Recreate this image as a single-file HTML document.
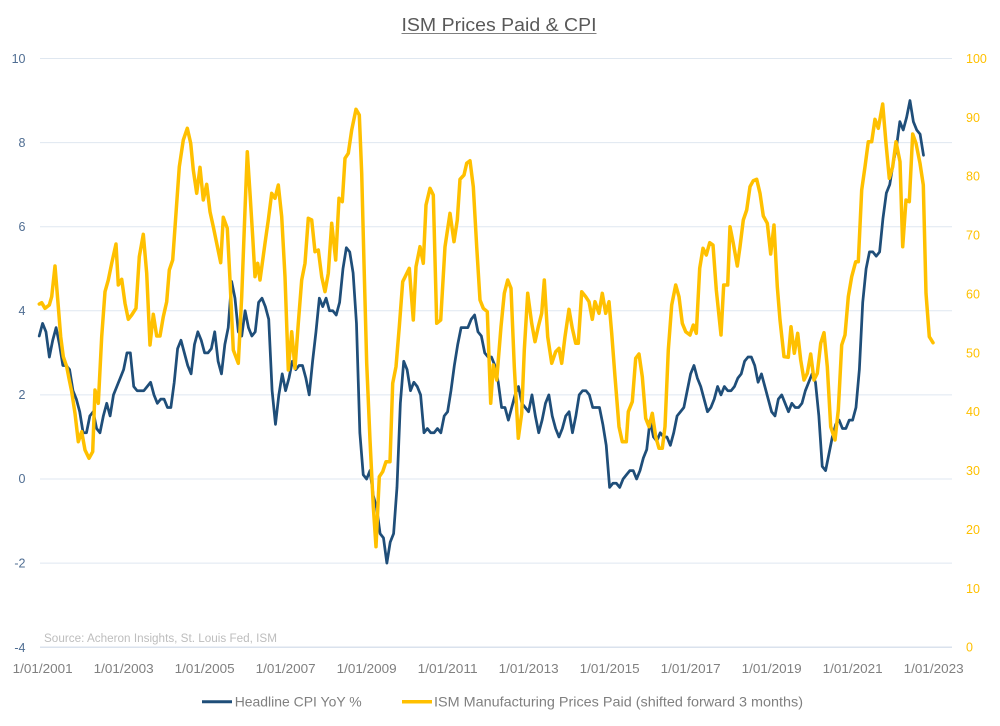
<!DOCTYPE html>
<html>
<head>
<meta charset="utf-8">
<style>
  html, body { margin:0; padding:0; background:#ffffff; }
  svg { display:block; }
  text { font-family: "Liberation Sans", Arial, sans-serif; }
</style>
</head>
<body>
<svg width="1000" height="726" viewBox="0 0 1000 726" xmlns="http://www.w3.org/2000/svg">
  <rect x="0" y="0" width="1000" height="726" fill="#ffffff"/>

  <!-- Title -->
  <text x="499" y="31" font-size="18" fill="#595959" text-anchor="middle" textLength="195" lengthAdjust="spacingAndGlyphs">ISM Prices Paid &amp; CPI</text>
  <line x1="401.5" y1="33.5" x2="596.5" y2="33.5" stroke="#7f7f7f" stroke-width="1"/>

  <!-- Gridlines -->
  <g stroke="#dfe7f0" stroke-width="1">
    <line x1="40" y1="58.5" x2="952" y2="58.5"/>
    <line x1="40" y1="142.6" x2="952" y2="142.6"/>
    <line x1="40" y1="226.7" x2="952" y2="226.7"/>
    <line x1="40" y1="310.8" x2="952" y2="310.8"/>
    <line x1="40" y1="394.9" x2="952" y2="394.9"/>
    <line x1="40" y1="479" x2="952" y2="479"/>
    <line x1="40" y1="563.1" x2="952" y2="563.1"/>
  </g>
  <line x1="40" y1="647.2" x2="952" y2="647.2" stroke="#cdd9e7" stroke-width="1.2"/>

  <!-- Left axis labels -->
  <g font-size="12.5" fill="#4f6d92" text-anchor="end">
    <text x="25.5" y="63">10</text>
    <text x="25.5" y="147">8</text>
    <text x="25.5" y="231">6</text>
    <text x="25.5" y="315">4</text>
    <text x="25.5" y="399">2</text>
    <text x="25.5" y="483">0</text>
    <text x="25.5" y="567.5">-2</text>
    <text x="25.5" y="652">-4</text>
  </g>

  <!-- Right axis labels -->
  <g font-size="12.5" fill="#FFC000">
    <text x="966" y="63">100</text>
    <text x="966" y="121.9">90</text>
    <text x="966" y="180.7">80</text>
    <text x="966" y="239.6">70</text>
    <text x="966" y="298.5">60</text>
    <text x="966" y="357.4">50</text>
    <text x="966" y="416.2">40</text>
    <text x="966" y="475.1">30</text>
    <text x="966" y="534">20</text>
    <text x="966" y="592.8">10</text>
    <text x="966" y="651.7">0</text>
  </g>

  <!-- X axis labels -->
  <g font-size="13" fill="#808080" text-anchor="middle">
    <text x="42.6" y="673" textLength="60" lengthAdjust="spacingAndGlyphs">1/01/2001</text>
    <text x="123.6" y="673" textLength="60" lengthAdjust="spacingAndGlyphs">1/01/2003</text>
    <text x="204.6" y="673" textLength="60" lengthAdjust="spacingAndGlyphs">1/01/2005</text>
    <text x="285.6" y="673" textLength="60" lengthAdjust="spacingAndGlyphs">1/01/2007</text>
    <text x="366.6" y="673" textLength="60" lengthAdjust="spacingAndGlyphs">1/01/2009</text>
    <text x="447.6" y="673" textLength="60" lengthAdjust="spacingAndGlyphs">1/01/2011</text>
    <text x="528.6" y="673" textLength="60" lengthAdjust="spacingAndGlyphs">1/01/2013</text>
    <text x="609.6" y="673" textLength="60" lengthAdjust="spacingAndGlyphs">1/01/2015</text>
    <text x="690.6" y="673" textLength="60" lengthAdjust="spacingAndGlyphs">1/01/2017</text>
    <text x="771.6" y="673" textLength="60" lengthAdjust="spacingAndGlyphs">1/01/2019</text>
    <text x="852.6" y="673" textLength="60" lengthAdjust="spacingAndGlyphs">1/01/2021</text>
    <text x="933.6" y="673" textLength="60" lengthAdjust="spacingAndGlyphs">1/01/2023</text>
  </g>

  <!-- Source -->
  <text x="44" y="642" font-size="11.5" fill="#bdbdbd" textLength="233" lengthAdjust="spacingAndGlyphs">Source: Acheron Insights, St. Louis Fed, ISM</text>

  <!-- CPI series (data coords: month index, value) -->
  <g transform="translate(42.6,479) scale(3.375,-42.05)">
    <polyline fill="none" stroke="#1f4e79" stroke-width="2.75" vector-effect="non-scaling-stroke" stroke-linejoin="round" stroke-linecap="round"
      points="-1,3.4 0,3.7 1,3.5 2,2.9 3,3.3 4,3.6 5,3.2 6,2.7 7,2.7 8,2.6 9,2.1 10,1.9 11,1.6 12,1.1 13,1.1 14,1.5 15,1.6 16,1.2 17,1.1 18,1.5 19,1.8 20,1.5 21,2.0 22,2.2 23,2.4 24,2.6 25,3.0 26,3.0 27,2.2 28,2.1 29,2.1 30,2.1 31,2.2 32,2.3 33,2.0 34,1.8 35,1.9 36,1.9 37,1.7 38,1.7 39,2.3 40,3.1 41,3.3 42,3.0 43,2.7 44,2.5 45,3.2 46,3.5 47,3.3 48,3.0 49,3.0 50,3.1 51,3.5 52,2.8 53,2.5 54,3.2 55,3.6 56,4.7 57,4.3 58,3.5 59,3.4 60,4.0 61,3.6 62,3.4 63,3.5 64,4.2 65,4.3 66,4.1 67,3.8 68,2.1 69,1.3 70,2.0 71,2.5 72,2.1 73,2.4 74,2.8 75,2.6 76,2.7 77,2.7 78,2.4 79,2.0 80,2.8 81,3.5 82,4.3 83,4.1 84,4.3 85,4.0 86,4.0 87,3.9 88,4.2 89,5.0 90,5.5 91,5.4 92,4.9 93,3.7 94,1.1 95,0.1 96,0.0 97,0.2 98,-0.4 99,-0.7 100,-1.3 101,-1.4 102,-2.0 103,-1.5 104,-1.3 105,-0.2 106,1.8 107,2.8 108,2.6 109,2.1 110,2.3 111,2.2 112,2.0 113,1.1 114,1.2 115,1.1 116,1.1 117,1.2 118,1.1 119,1.5 120,1.6 121,2.1 122,2.7 123,3.2 124,3.6 125,3.6 126,3.6 127,3.8 128,3.9 129,3.5 130,3.4 131,3.0 132,2.9 133,2.9 134,2.7 135,2.3 136,1.7 137,1.7 138,1.4 139,1.7 140,2.0 141,2.2 142,1.8 143,1.7 144,1.6 145,2.0 146,1.5 147,1.1 148,1.4 149,1.8 150,2.0 151,1.5 152,1.2 153,1.0 154,1.2 155,1.5 156,1.6 157,1.1 158,1.5 159,2.0 160,2.1 161,2.1 162,2.0 163,1.7 164,1.7 165,1.7 166,1.3 167,0.8 168,-0.2 169,-0.1 170,-0.1 171,-0.2 172,0.0 173,0.1 174,0.2 175,0.2 176,0.0 177,0.2 178,0.5 179,0.7 180,1.4 181,1.0 182,0.9 183,1.1 184,1.0 185,1.0 186,0.8 187,1.1 188,1.5 189,1.6 190,1.7 191,2.1 192,2.5 193,2.7 194,2.4 195,2.2 196,1.9 197,1.6 198,1.7 199,1.9 200,2.2 201,2.0 202,2.2 203,2.1 204,2.1 205,2.2 206,2.4 207,2.5 208,2.8 209,2.9 210,2.9 211,2.7 212,2.3 213,2.5 214,2.2 215,1.9 216,1.6 217,1.5 218,1.9 219,2.0 220,1.8 221,1.6 222,1.8 223,1.7 224,1.7 225,1.8 226,2.1 227,2.3 228,2.5 229,2.3 230,1.5 231,0.3 232,0.2 233,0.6 234,1.0 235,1.3 236,1.4 237,1.2 238,1.2 239,1.4 240,1.4 241,1.7 242,2.6 243,4.2 244,5.0 245,5.4 246,5.4 247,5.3 248,5.4 249,6.2 250,6.8 251,7.0 252,7.5 253,7.9 254,8.5 255,8.3 256,8.6 257,9.0 258,8.5 259,8.3 260,8.2 261,7.7"/>
  </g>

  <!-- ISM series (pixel coords) -->
  <polyline fill="none" stroke="#FFC000" stroke-width="3.5" stroke-linejoin="round" stroke-linecap="round"
    points="39.3,304 41.7,302.7 45,308.3 49.3,305 51.7,296.7 55,266 58.3,306.7 60.7,336.7 63.3,356.7 66.7,366.7 69.3,380 71.7,391.7 75,413.3 78.3,441.7 81.7,431.7 85,450 89,458.3 92.7,451.7 95,390 98.3,403.3 101.7,336.7 105,291.7 108.3,280 111.7,263.3 116,244 118.3,285 121.7,279.3 125,303.3 128.3,319.3 131.7,315 136,308.3 139.3,256.7 143.3,234.3 146.7,273.3 150,345 153.3,314.3 156.7,336 160,336 163.3,316.7 166.7,301.7 169.3,270 172.7,260 176,213.3 179.3,166.7 183.3,140 187.3,128.3 190.7,143.3 193.3,170 196.7,193.3 200,167.3 203.3,200 206.7,184.3 210,211.7 213.3,226.7 216.7,243.3 220.7,262.7 223.3,217.3 227.3,228.3 230,280 233.3,350 238.3,363.3 241.7,296.7 245,210 247.3,151.7 250,193.3 252.7,236.7 255,276.7 257.7,263.3 260,280 265,243.3 268.3,220 271.7,193.3 275,198.3 278.3,185 281.7,216.7 285,276.7 288.3,370 291.7,331.7 295,368.3 298.3,323.3 301.7,280 305,263.3 308.3,218.3 311.7,220 315,251.7 318.3,250 321.7,276.7 325,291.7 328.3,273.3 331.7,223.3 335.7,260 339,198.3 342.3,201.7 345,158.3 348.3,153.3 351.7,130 356,109.3 359.3,115 361.7,173.3 364,263.3 366.7,363.3 370,440 373.3,506.7 376,546.7 379.3,476.7 382.7,471.7 386,461.7 390,461.7 392.7,383.3 396,366.7 399.3,326.7 402.7,281.7 406,275 409.3,268.3 413.3,320 416,266.7 420,246.7 423.3,263.3 426,205 430,188.3 433.3,195 436.7,323.3 440.7,320 445,246.7 450,213.3 454,241.7 457.3,220 460,179.3 464,175 466.7,163.3 470,160.7 473.3,186.7 476.7,246.7 480,300 483.3,308.3 487.3,311.7 490.7,403.3 493.3,365 496.7,380 501,326.7 504.3,293.3 507.7,280 511,288.3 514.3,366.7 518.3,438.3 521.7,413.3 524.3,350 527.7,293.3 531.7,323.3 535,341.7 538.3,326.7 541.7,313.3 544.3,280 547.7,336.7 551.7,363.3 555.7,351.7 559,348.3 561.7,363.3 565,336.7 569,309.3 572.3,328.3 575.7,343.3 578.3,343.3 581.7,291.7 585.7,296.7 589,301.7 592.3,319.3 595,301.7 599,313.3 602.3,293.3 605.7,313.3 609,301.7 611.7,333.3 615,376.7 619,426.7 622.3,441.7 626.3,441.7 628.3,411.7 632.3,401.7 635.7,358.3 639,354 642.3,376.7 645.7,418.3 649,426.7 652.3,413.3 655.7,436.7 659,448.3 662.3,448.3 665,426.7 668.3,350 671.7,305 675.7,285 679,296.7 682.3,323.3 685.7,331.7 690,335 693.3,325 696.3,333.3 699.7,268.3 703,248.3 706.3,255 709.7,242.7 713,245 716.3,290 721,335 723.7,285 727.7,285 730,226.7 733.3,243.3 737.3,266 740,246.7 743.3,220 746.7,210 750,186.7 753.3,180.7 756.7,179.3 760,193.3 763.3,216 767.3,223.3 770.7,254 774,225 777.3,286.7 780,320 784,356.7 788.3,357.3 791,326.7 794.3,353.3 797.7,333.3 800.7,360 804,380 807.3,373.3 810.7,354 814,380 817.3,373.3 820.7,343.3 824,332.7 827.3,366.7 830.7,426.7 835,440 838.3,410 841.7,345 845,335 848.3,296.7 851.7,276.7 855.7,261.7 858.3,261.7 861.7,190 865,166.7 868.3,141.7 871.7,141.7 875,119.3 878.3,128.3 882.7,104 886,143.3 889.3,178.3 892.7,166.7 896,141.7 900,161.7 902.7,246.7 906,200 909.3,201.7 912.7,134 916,143.3 920,163.3 923.3,185 926,293.3 929.3,336.7 933,342.7"/>

  <!-- Legend -->
  <line x1="202" y1="701.7" x2="232" y2="701.7" stroke="#1f4e79" stroke-width="3"/>
  <text x="234.7" y="706.5" font-size="14" fill="#808080" textLength="127" lengthAdjust="spacingAndGlyphs">Headline CPI YoY %</text>
  <line x1="402" y1="701.7" x2="432" y2="701.7" stroke="#FFC000" stroke-width="3.5"/>
  <text x="434" y="706.5" font-size="14" fill="#808080" textLength="369" lengthAdjust="spacingAndGlyphs">ISM Manufacturing Prices Paid (shifted forward 3 months)</text>
</svg>
</body>
</html>
